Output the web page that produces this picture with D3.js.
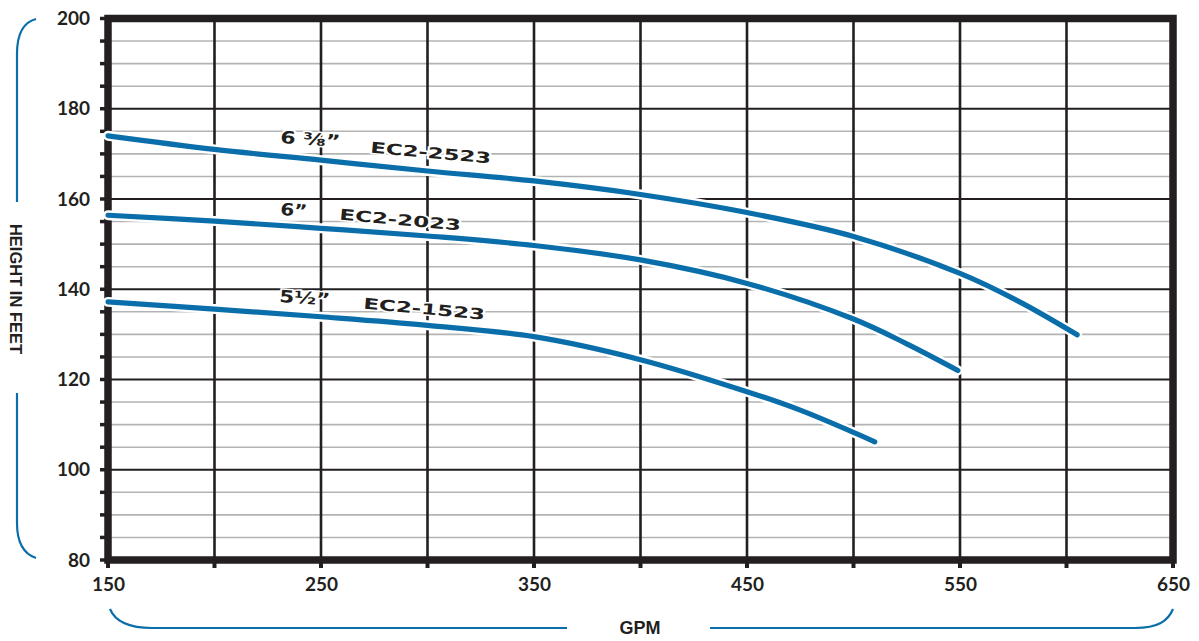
<!DOCTYPE html>
<html><head><meta charset="utf-8">
<script src="https://cdn.jsdelivr.net/npm/d3@7"></script>
<style>body{margin:0;background:#fff}</style>
</head><body>
<svg id="c" width="1199" height="641"></svg>
<script>
// ---- data ----
const gpmTickLabels = [150, 250, 350, 450, 550, 650];
const gpmGridLines = [150, 200, 250, 300, 350, 400, 450, 500, 550, 600, 650];
const headTickLabels = [80, 100, 120, 140, 160, 180, 200];
const headMinorLines = [85, 90, 95, 105, 110, 115, 125, 130, 135, 145, 150, 155, 165, 170, 175, 185, 190, 195];
const headMajorLines = [100, 120, 140, 160, 180];

const curveEC2_2523 = [[150,174.0],[200,171.0],[250,168.6],[300,166.2],[350,164.0],[400,161.0],[450,157.0],[500,151.7],[550,143.5],[578,137.2],[605,129.9]];
const curveEC2_2023 = [[150,156.4],[200,155.1],[250,153.5],[300,151.8],[350,149.7],[400,146.5],[450,141.3],[500,133.4],[525,127.9],[549,122.0]];
const curveEC2_1523 = [[150,137.2],[200,135.6],[250,133.9],[300,132.0],[350,129.5],[400,124.4],[450,117.3],[475,113.2],[510,106.2]];

const seriesNames = ["EC2-2523", "EC2-2023", "EC2-1523"];
const impellerNames = ["6 \u215C\u201D", "6\u201D", "5\u00BD\u201D"];

// ---- layout ----
const L = 108, R = 1173, T = 18.5, B = 560;
const BLUE = "#0a6eaa", DARK = "#231f20";
const svg = d3.select("#c");
const x = d3.scaleLinear().domain([150, 650]).range([L, R]);
const y = d3.scaleLinear().domain([80, 200]).range([B, T]);

// minor horizontal grid
svg.append("g").selectAll("line").data(headMinorLines).join("line")
  .attr("x1", L).attr("x2", R).attr("y1", d => y(d)).attr("y2", d => y(d))
  .attr("stroke", "#b3b3b3").attr("stroke-width", 1.6);
// major horizontal grid
svg.append("g").selectAll("line").data(headMajorLines).join("line")
  .attr("x1", L).attr("x2", R).attr("y1", d => y(d)).attr("y2", d => y(d))
  .attr("stroke", DARK).attr("stroke-width", 2);
// vertical grid
svg.append("g").selectAll("line").data(gpmGridLines).join("line")
  .attr("x1", d => x(d)).attr("x2", d => x(d)).attr("y1", T).attr("y2", B + 8)
  .attr("stroke", DARK).attr("stroke-width", d => (d === 150 || d === 650) ? 0 : 2.6);
// bottom tick stubs
svg.append("g").selectAll("line").data(gpmGridLines).join("line")
  .attr("x1", d => x(d)).attr("x2", d => x(d)).attr("y1", B).attr("y2", B + 8)
  .attr("stroke", DARK).attr("stroke-width", 4);
// left tick stubs
svg.append("g").selectAll("line").data(headMinorLines.concat(headTickLabels)).join("line")
  .attr("x1", L - 8).attr("x2", L).attr("y1", d => y(d)).attr("y2", d => y(d))
  .attr("stroke", DARK).attr("stroke-width", 3.5);

// frame
svg.append("rect").attr("x", L).attr("y", T).attr("width", R - L).attr("height", B - T)
  .attr("fill", "none").attr("stroke", DARK).attr("stroke-width", 7.5);

// curves
const line = d3.line().x(d => x(d[0])).y(d => y(d[1])).curve(d3.curveCatmullRom.alpha(0.5));
const allCurves = [curveEC2_2523, curveEC2_2023, curveEC2_1523];
const cg = svg.append("g");
cg.selectAll("path.halo").data(allCurves).join("path").attr("class", "halo")
  .attr("d", line).attr("fill", "none").attr("stroke", "#fff").attr("stroke-width", 10)
  .attr("stroke-linecap", "round");
cg.selectAll("path.crv").data(allCurves).join("path").attr("class", "crv")
  .attr("d", line).attr("fill", "none").attr("stroke", BLUE).attr("stroke-width", 5.2)
  .attr("stroke-linecap", "round");

// curve labels
const labelFont = "DejaVu Sans";
function lab(txt, px, py, ang, len, size) {
  svg.append("text").attr("transform", `translate(${px},${py}) rotate(${ang})`)
    .attr("font-family", labelFont).attr("font-weight", "bold").attr("font-size", size)
    .attr("fill", DARK).attr("stroke", "#fff").attr("stroke-width", 3)
    .attr("paint-order", "stroke").attr("textLength", len).attr("lengthAdjust", "spacingAndGlyphs")
    .text(txt);
}
lab(impellerNames[0], 280, 143, 4, 60, 17);
lab(seriesNames[0], 370, 152.5, 5.2, 121, 15);
lab(impellerNames[1], 280, 215, 4, 27, 17);
lab(seriesNames[1], 339, 219.5, 5.2, 122, 15);
lab(impellerNames[2], 279, 302, 4, 51, 17);
lab(seriesNames[2], 363, 308.5, 5.3, 122, 15);

// axes tick labels
const yAxis = d3.axisLeft(y).tickValues(headTickLabels).tickSize(0).tickPadding(18);
const ya = svg.append("g").attr("transform", `translate(${L},0)`).call(yAxis);
ya.select(".domain").remove();
ya.selectAll("text").attr("font-family", "Lato").attr("font-weight", "bold")
  .attr("font-size", 19).attr("fill", DARK);

const xAxis = d3.axisBottom(x).tickValues(gpmTickLabels).tickSize(0).tickPadding(18);
const xa = svg.append("g").attr("transform", `translate(0,${B})`).call(xAxis);
xa.select(".domain").remove();
xa.selectAll("text").attr("font-family", "Lato").attr("font-weight", "bold")
  .attr("font-size", 19).attr("fill", DARK);

// axis titles
svg.append("text").attr("x", 640).attr("y", 634).attr("text-anchor", "middle")
  .attr("font-family", "Liberation Sans").attr("font-weight", "bold").attr("font-size", 18)
  .attr("fill", DARK).text("GPM");
svg.append("text").attr("transform", "translate(10,289) rotate(90)").attr("text-anchor", "middle")
  .attr("font-family", "Liberation Sans").attr("font-weight", "bold").attr("font-size", 16.5)
  .attr("fill", DARK).text("HEIGHT IN FEET");

// brackets
const br = svg.append("g").attr("fill", "none").attr("stroke", BLUE).attr("stroke-width", 2.2);
br.append("path").attr("d", "M36,19 C24,22 17,34 17,54 L17,202");
br.append("path").attr("d", "M17,393 L17,523 C17,543 24,554 36,558");
br.append("path").attr("d", "M110,609 C115,621 128,628 152,628 L567,628");
br.append("path").attr("d", "M710,628 L1135,628 C1158,628 1168,621 1173,609");
</script>
</body></html>
